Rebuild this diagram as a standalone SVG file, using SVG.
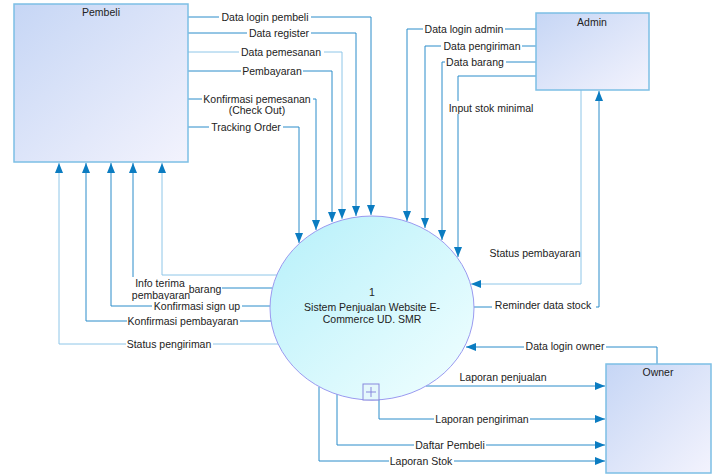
<svg xmlns="http://www.w3.org/2000/svg" width="719" height="475" viewBox="0 0 719 475">
<defs>
<linearGradient id="boxg" x1="0" y1="0" x2="1" y2="1"><stop offset="0" stop-color="#c6d6f5"/><stop offset="1" stop-color="#f3f3fd"/></linearGradient>
<linearGradient id="circg" x1="0" y1="0" x2="1" y2="1"><stop offset="0" stop-color="#b6f0fa"/><stop offset="1" stop-color="#f2ffff"/></linearGradient>
<marker id="arr" markerUnits="userSpaceOnUse" markerWidth="10" markerHeight="8" refX="10" refY="4" orient="auto"><path d="M0,0 L10,4 L0,8 z" fill="#0b7cc1"/></marker>
<style>
.box{fill:url(#boxg);stroke:#7cbfe5;stroke-width:1.5}
.ttl{font-family:"Liberation Sans",Arial,sans-serif;font-size:10.5px;fill:#222;text-anchor:middle}
.lbl{font-family:"Liberation Sans",Arial,sans-serif;font-size:10.5px;fill:#222;text-anchor:middle}
.bg{fill:#fff}
.c{fill:none;stroke:#2a8cca;stroke-width:1;marker-end:url(#arr)}
.cl{fill:none;stroke:#8ec6e8;stroke-width:1;marker-end:url(#arr)}
</style>
</defs>
<rect width="719" height="475" fill="#fff"/>
<g id="connectors">
<path class="c" d="M188,17 H371 V215"/>
<path class="c" d="M188,33 H356 V216"/>
<path class="cl" d="M188,52 H342 V219"/>
<path class="c" d="M188,71 H332 V222"/>
<path class="c" d="M188,99 H316 V230"/>
<path class="c" d="M188,127 H299 V243"/>
<path class="c" d="M536,29 H407 V221"/>
<path class="c" d="M536,46 H425 V228"/>
<path class="c" d="M536,62 H442 V240"/>
<path class="c" d="M536,76 H458 V257"/>
<path class="cl" d="M581,90 V284 H471"/>
<path class="c" d="M474,307 H599 V91"/>
<path class="cl" d="M277,275 H162 V163"/>
<path class="c" d="M272,288 H133 V163"/>
<path class="c" d="M270,306 H111 V163"/>
<path class="c" d="M271,321 H86 V163"/>
<path class="cl" d="M278,344 H59 V163"/>
<path class="c" d="M657,364 V347 H466"/>
<path class="c" d="M426,386 H605"/>
<path class="c" d="M379,392 V419 H605"/>
<path class="c" d="M337,394 V445 H605"/>
<path class="c" d="M319,387 V461 H605"/>
</g>
<g id="pembeli"><rect class="box" x="14" y="4" width="174" height="158"/><text class="ttl" x="101" y="16">Pembeli</text></g>
<g id="admin"><rect class="box" x="536" y="13" width="113" height="77"/><text class="ttl" x="592" y="26">Admin</text></g>
<g id="owner"><rect class="box" x="606" y="364" width="105" height="109"/><text class="ttl" x="658" y="376">Owner</text></g>
<g id="process">
<ellipse cx="372" cy="308" rx="102" ry="92" fill="url(#circg)" stroke="#9a9af0" stroke-width="1"/>
<text class="ttl" x="372" y="296">1</text>
<text class="ttl" x="372" y="311">Sistem Penjualan Website E-</text>
<text class="ttl" x="372" y="323">Commerce UD. SMR</text>
<rect x="363" y="384" width="16" height="16" fill="#e4f8fc" stroke="#8888dd" stroke-width="1"/>
<path d="M371,387 V397 M366,392 H376" stroke="#8888dd" stroke-width="1"/>
</g>
<g id="labels">
<rect class="bg" x="219" y="11" width="92" height="12"/><text class="lbl" x="265" y="20.5">Data login pembeli</text>
<rect class="bg" x="247" y="27" width="64" height="12"/><text class="lbl" x="279" y="36.5">Data register</text>
<rect class="bg" x="239" y="46" width="85" height="12"/><text class="lbl" x="281" y="55.5">Data pemesanan</text>
<rect class="bg" x="241" y="65" width="62" height="12"/><text class="lbl" x="272" y="74.5">Pembayaran</text>
<rect class="bg" x="202" y="93" width="111" height="23"/><text class="lbl" x="257" y="102.5">Konfirmasi pemesanan</text><text class="lbl" x="257" y="113.5">(Check Out)</text>
<rect class="bg" x="209" y="121" width="74" height="12"/><text class="lbl" x="246" y="130.5">Tracking Order</text>
<rect class="bg" x="423" y="23" width="82" height="12"/><text class="lbl" x="464" y="32.5">Data login admin</text>
<rect class="bg" x="441" y="40" width="81" height="12"/><text class="lbl" x="482" y="49.5">Data pengiriman</text>
<rect class="bg" x="445" y="56" width="61" height="12"/><text class="lbl" x="475" y="65.5">Data barang</text>
<rect class="bg" x="447" y="101" width="88" height="13"/><text class="lbl" x="491" y="111.5">Input stok minimal</text>
<text class="lbl" x="535" y="256.5">Status pembayaran</text>
<rect class="bg" x="492" y="299" width="104" height="12"/><text class="lbl" x="543" y="308.5">Reminder data stock</text>
<rect class="bg" x="187" y="283" width="35" height="12"/><text class="lbl" x="205" y="292.5">barang</text>
<rect class="bg" x="130" y="277" width="58" height="24"/><text class="lbl" x="160" y="286.5">Info terima</text><text class="lbl" x="161" y="298.5">pembayaran</text>
<rect class="bg" x="152" y="300" width="90" height="12"/><text class="lbl" x="197" y="309.5">Konfirmasi sign up</text>
<rect class="bg" x="127" y="315" width="113" height="12"/><text class="lbl" x="183" y="324.5">Konfirmasi pembayaran</text>
<rect class="bg" x="126" y="338" width="87" height="12"/><text class="lbl" x="169" y="347.5">Status pengiriman</text>
<rect class="bg" x="524" y="340" width="82" height="12"/><text class="lbl" x="565" y="349.5">Data login owner</text>
<text class="lbl" x="503" y="380.5">Laporan penjualan</text>
<rect class="bg" x="434" y="413" width="96" height="12"/><text class="lbl" x="482" y="422.5">Laporan pengiriman</text>
<rect class="bg" x="414" y="439" width="72" height="12"/><text class="lbl" x="450" y="448.5">Daftar Pembeli</text>
<rect class="bg" x="389" y="455" width="65" height="12"/><text class="lbl" x="421" y="464.5">Laporan Stok</text>
</g>
</svg>
